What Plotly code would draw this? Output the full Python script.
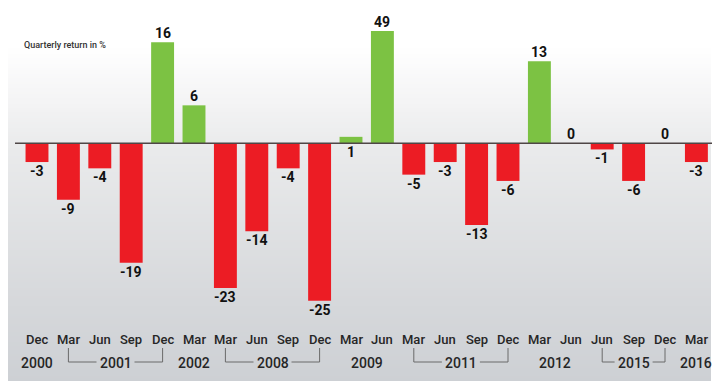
import plotly.graph_objects as go

# ---- data ----
months = ["Dec", "Mar", "Jun", "Sep", "Dec", "Mar", "Mar", "Jun", "Sep", "Dec", "Mar",
          "Jun", "Mar", "Jun", "Sep", "Dec", "Mar", "Jun", "Jun", "Sep", "Dec", "Mar"]
years = ["2000", "2001", "2001", "2001", "2001", "2002", "2008", "2008", "2008", "2008", "2009",
         "2009", "2011", "2011", "2011", "2011", "2012", "2012", "2015", "2015", "2015", "2016"]
returns = [-3, -9, -4, -19, 16, 6, -23, -14, -4, -25, 1, 49,
           -5, -3, -13, -6, 13, 0, -1, -6, 0, -3]
title_text = "Quarterly return in %"

# ---- layout geometry (page pixels; the page body adds an 8px offset) ----
OFF = 8
W, H = 720 - OFF, 381 - OFF
PL, PR, PT, PB = 15, 717, 31, 381      # plot area in page pixels
ML, MT = PL - OFF, PT - OFF
MR, MB = (W + OFF) - PR, (H + OFF) - PB
PW, PH = PR - PL, PB - PT
YMAX = 17.8
SCALE = 6.3                            # px per percentage point
YMIN = YMAX - PH / SCALE
PX_PER_CAT = 31.4
XMIN = -22 / PX_PER_CAT
XMAX = XMIN + PW / PX_PER_CAT


def yd(py):      # page pixel row -> data y
    return YMAX - (py - PT) / SCALE


def xp(px):      # page pixel col -> paper x
    return (px - PL) / PW


def ypp(py):     # page pixel row -> paper y
    return (PB - py) / PH


RED, GREEN = "#ec1c24", "#7cc243"
n = len(returns)
xs = list(range(n))
colors = [GREEN if v > 0 else RED for v in returns]

fig = go.Figure()
fig.add_trace(go.Bar(x=xs, y=returns, marker=dict(color=colors, line=dict(width=0)),
                     width=0.73, hoverinfo="skip", cliponaxis=True))

shapes = []


def lerp(a, b, t):
    return a + (b - a) * t


stops = [(0, (255, 255, 255)), (45, (255, 255, 255)), (100, (244, 244, 245)),
         (143, (234, 235, 236)), (300, (214, 216, 219)), (381, (205, 208, 212))]
step = 2
for py in range(OFF, 381, step):
    c = stops[-1][1]
    for (a, ca), (b, cb) in zip(stops[:-1], stops[1:]):
        if a <= py < b:
            t = (py - a) / (b - a)
            c = tuple(int(round(lerp(ca[k], cb[k], t))) for k in range(3))
            break
    shapes.append(dict(type="rect", xref="paper", yref="paper", layer="below",
                       x0=xp(8), x1=xp(711), y0=ypp(py + step + 0.5), y1=ypp(py),
                       fillcolor="rgb(%d,%d,%d)" % c, line=dict(width=0)))

# zero line
shapes.append(dict(type="line", xref="paper", yref="y", x0=0, x1=1, y0=0, y1=0,
                   line=dict(color="#4f4646", width=1.5), layer="above"))

annotations = []
FAM = "Roboto, Liberation Sans, sans-serif"
LABEL_FONT = dict(family=FAM, size=14, color="#111111", weight=700)
for i, v in enumerate(returns):
    if v > 1:
        annotations.append(dict(x=i, y=min(v, YMAX), text=str(v), showarrow=False,
                                yanchor="bottom", font=LABEL_FONT, borderpad=0))
    elif v == 0:
        annotations.append(dict(x=i, y=0, text=str(v), showarrow=False,
                                yanchor="bottom", font=LABEL_FONT, borderpad=0))
    elif v == 1:
        annotations.append(dict(x=i, y=0, text=str(v), showarrow=False,
                                yanchor="top", font=LABEL_FONT, borderpad=0))
    else:
        annotations.append(dict(x=i, y=v, text=str(v), showarrow=False,
                                yanchor="top", font=LABEL_FONT, borderpad=0))

AX_FONT = dict(family=FAM, size=13, color="#262626", weight=500)
YR_FONT = dict(family=FAM, size=14, color="#262626", weight=500)
for i, m in enumerate(months):
    annotations.append(dict(x=i, y=yd(339.5), text=m, showarrow=False, yanchor="middle",
                            font=AX_FONT))

groups = []
for i, yv in enumerate(years):
    if groups and groups[-1][0] == yv:
        groups[-1][2] = i
    else:
        groups.append([yv, i, i])

half_gap = 19 / PX_PER_CAT
for yv, a, b in groups:
    cx = (a + b) / 2
    annotations.append(dict(x=cx, y=yd(363), text=yv, showarrow=False, yanchor="middle",
                            font=YR_FONT))
    if b - a >= 2:
        lc = "#6a6a6a"
        yt, yb = yd(348), yd(362)
        shapes += [
            dict(type="line", xref="x", yref="y", x0=a, x1=a, y0=yt, y1=yb, line=dict(color=lc, width=1)),
            dict(type="line", xref="x", yref="y", x0=a, x1=cx - half_gap, y0=yb, y1=yb, line=dict(color=lc, width=1)),
            dict(type="line", xref="x", yref="y", x0=cx + half_gap, x1=b, y0=yb, y1=yb, line=dict(color=lc, width=1)),
            dict(type="line", xref="x", yref="y", x0=b, x1=b, y0=yt, y1=yb, line=dict(color=lc, width=1)),
        ]

annotations.append(dict(xref="paper", yref="paper", x=xp(22), y=ypp(45), text=title_text,
                        showarrow=False, xanchor="left", yanchor="middle",
                        font=dict(family=FAM, size=9, color="#333333", weight=500)))

fig.update_layout(
    width=W, height=H, margin=dict(l=ML, r=MR, t=MT, b=MB, pad=0),
    paper_bgcolor="white", plot_bgcolor="rgba(0,0,0,0)",
    showlegend=False, shapes=shapes, annotations=annotations,
    xaxis=dict(range=[XMIN, XMAX], visible=False, fixedrange=True),
    yaxis=dict(range=[YMIN, YMAX], visible=False, fixedrange=True),
)
fig.write_html("out.html")
